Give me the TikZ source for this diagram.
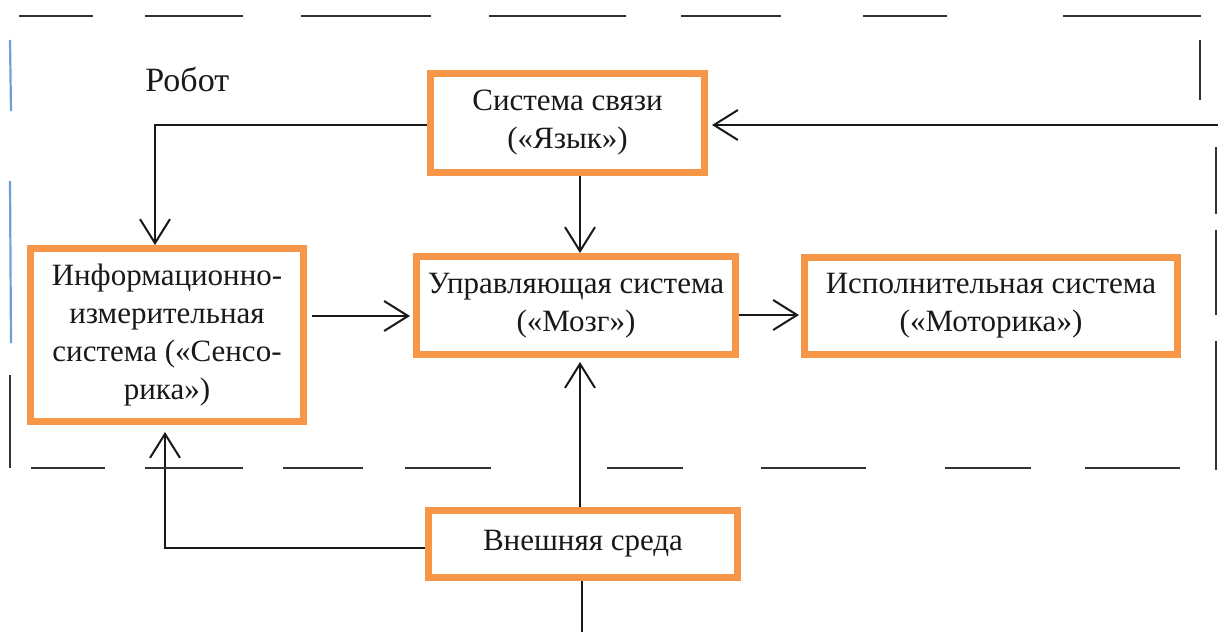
\documentclass[tikz,border=0pt]{standalone}
\usepackage{fontspec}
\setmainfont{Liberation Serif}
\usetikzlibrary{arrows.meta}
\definecolor{boxorange}{HTML}{F79646}
\definecolor{penblue}{HTML}{6F9FDA}
\begin{document}
\begin{tikzpicture}[x=0.5pt,y=-0.5pt,
  sysbox/.style={draw=boxorange, line width=3.5pt, fill=white, inner sep=0pt, align=center,
    font=\fontsize{15.5}{19}\selectfont, text=black!90},
  arr/.style={line width=1pt, black!90, -{Straight Barb[length=12pt,width=15pt,line width=1pt]}},
  link/.style={line width=1pt, black!90},
  border/.style={line width=1.3pt, black!80},
  pen/.style={line width=1.1pt, penblue}]
\useasboundingbox (0,0) rectangle (1218,632);

% boxes
\node[sysbox, minimum width=137pt, minimum height=49.5pt] (svyaz) at (567.5,123) {Система связи\\(«Язык»)};
\node[sysbox, minimum width=136.5pt, minimum height=86.5pt] (info) at (167,335) {Информационно-\\измерительная\\система («Сенсо-\\рика»)};
\node[sysbox, minimum width=159.5pt, minimum height=49pt] (upr) at (576,305.5) {Управляющая система\\(«Мозг»)};
\node[sysbox, minimum width=186.5pt, minimum height=48.5pt] (isp) at (991,306) {Исполнительная система\\(«Моторика»)};
\node[sysbox, minimum width=154.5pt, minimum height=33.5pt] (vnesh) at (583,544) {Внешняя среда};
\node[font=\fontsize{17}{20}\selectfont, text=black!90, anchor=base west, inner sep=0pt] (robot) at (145,91) {Робот};

% connectors
\draw[arr] (svyaz.west |- 0,125) -| (info.north -| 155,0);
\draw[arr] (svyaz.south -| 580,0) -- (upr.north -| 580,0);
\coordinate (rin) at (1218,125);
\draw[arr, shorten >=2pt] (rin) -- (svyaz.east |- rin);
\draw[arr, shorten <=2.5pt, shorten >=1.5pt] (info.east |- 0,316) -- (upr.west |- 0,316);
\draw[arr, shorten >=1pt] (upr.east |- 0,315) -- (isp.west |- 0,315);
\draw[arr, shorten >=2pt] (vnesh.north -| 580,0) -- (upr.south -| 580,0);
\draw[arr, shorten >=3.5pt] (vnesh.west |- 0,548) -| (info.south -| 165,0);
\coordinate (down) at (582,632);
\draw[link] (vnesh.south -| down) -- (down);

% dashed robot boundary
\foreach \a/\b in {19/93,145/243,301/431,489/626,681/781,863/947,1063/1201}
  \draw[border] (\a,16) -- (\b,16);
\foreach \a/\b in {31/105,145/243,283/363,405/491,607/683,761/866,945/1031,1085/1180}
  \draw[border] (\a,468) -- (\b,468);
\draw[border] (1200,40) -- (1200,100);
\draw[border] (1216,147) -- (1216,214);
\draw[border] (1216,230) -- (1216,315);
\draw[border] (1216,341) -- (1216,470);
\draw[pen] (10,40) -- (11,111);
\draw[pen] (10,181) -- (11,343);
\draw[border] (10,375) -- (10,468);
\end{tikzpicture}
\end{document}
